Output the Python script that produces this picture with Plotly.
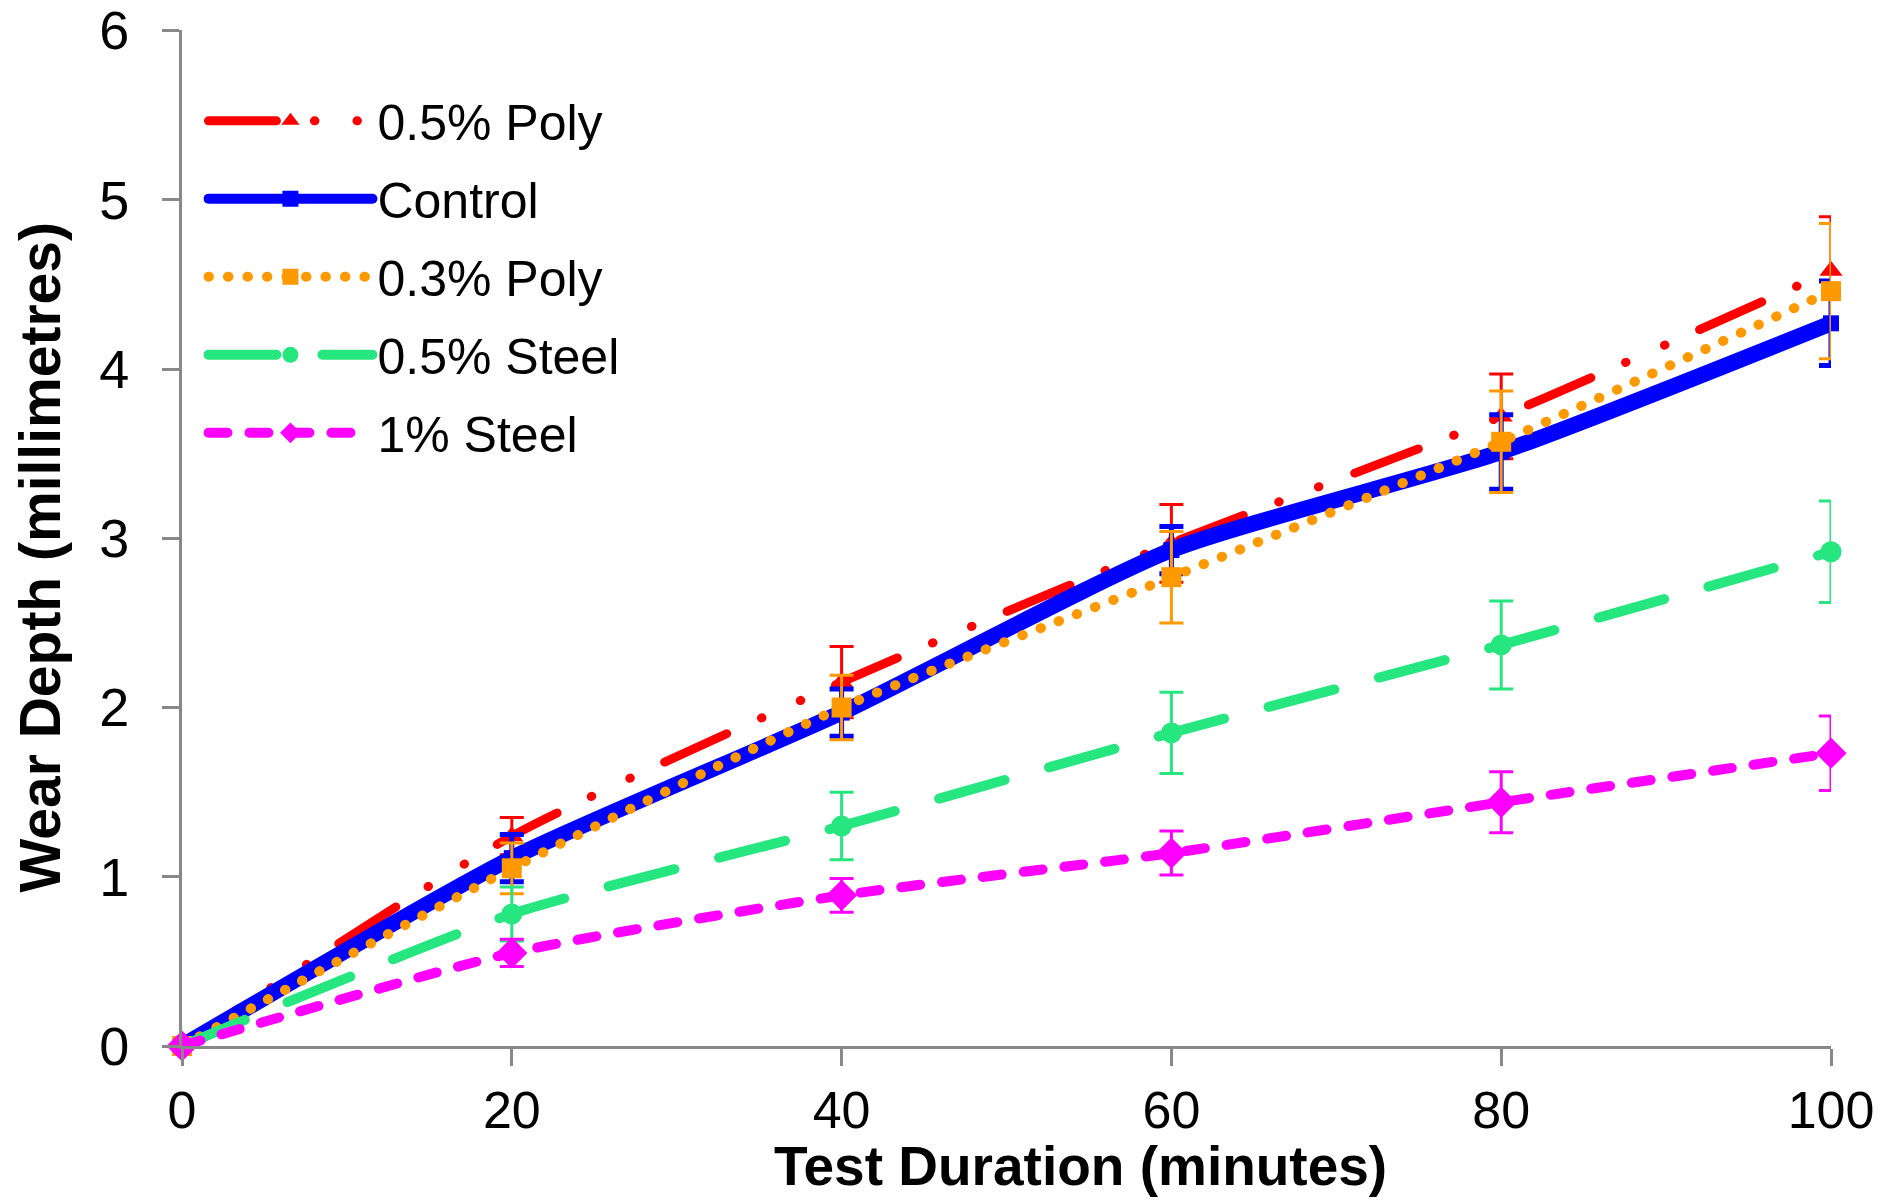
import plotly.graph_objects as go

# ---- data ----
minutes = [0, 20, 40, 60, 80, 100]

poly05 = [0, 1.24, 2.15, 2.97, 3.72, 4.58]
poly05_err = [0, 0.11, 0.21, 0.23, 0.25, 0.32]

control = [0, 1.11, 1.97, 2.93, 3.51, 4.27]
control_err = [0, 0.14, 0.14, 0.14, 0.22, 0.25]

poly03 = [0, 1.05, 2.00, 2.77, 3.57, 4.46]
poly03_err = [0, 0.15, 0.19, 0.27, 0.30, 0.40]

steel05 = [0, 0.78, 1.30, 1.85, 2.37, 2.92]
steel05_err = [0, 0.16, 0.20, 0.24, 0.26, 0.30]

steel1 = [0, 0.55, 0.89, 1.14, 1.44, 1.73]
steel1_err = [0, 0.08, 0.10, 0.13, 0.18, 0.22]

x_ticks = [0, 20, 40, 60, 80, 100]
y_ticks = [0, 1, 2, 3, 4, 5, 6]

FONT = "Liberation Sans, Arial, sans-serif"

series = [
    dict(name="0.5% Poly", y=poly05, err=poly05_err, color="#FF0000", width=9,
         dash="68px,38px,0.5px,42px,0.5px,38px", symbol="triangle-up", msize=20, ew=3),
    dict(name="Control", y=control, err=control_err, color="#0000FF", width=16,
         dash="solid", symbol="square", msize=16, ew=5),
    dict(name="0.3% Poly", y=poly03, err=poly03_err, color="#FF9900", width=10,
         dash="0.5px,19px", symbol="square", msize=20, ew=3),
    dict(name="0.5% Steel", y=steel05, err=steel05_err, color="#26E680", width=10,
         dash="68px,46px", symbol="circle", msize=21, ew=3),
    dict(name="1% Steel", y=steel1, err=steel1_err, color="#FF00FF", width=10,
         dash="19px,22px", symbol="diamond", msize=24, ew=3),
]

fig = go.Figure()
for i, s in enumerate(series):
    fig.add_trace(go.Scatter(
        x=minutes, y=s["y"], name=s["name"], mode="lines+markers",
        legendgroup=f"g{i}",
        line=dict(color=s["color"], width=s["width"], dash=s["dash"],
                  shape="spline", smoothing=0.6),
        marker=dict(symbol=s["symbol"], size=s["msize"], color=s["color"]),
        error_y=dict(type="data", array=s["err"], visible=True,
                     color=s["color"], thickness=s["ew"], width=12),
        cliponaxis=False,
    ))

fig.update_layout(
    width=1891, height=1200,
    margin=dict(l=182, r=60, t=30, b=154),
    paper_bgcolor="white", plot_bgcolor="white",
    font=dict(family=FONT, size=54, color="black"),
    showlegend=True,
    legend=dict(x=0.013, y=0.949, xanchor="left", yanchor="top",
                font=dict(family=FONT, size=50, color="black"),
                bgcolor="rgba(0,0,0,0)", tracegroupgap=10, itemwidth=164),
    xaxis=dict(range=[0, 100], tickvals=x_ticks, showline=True, linecolor="#888888",
               linewidth=3, ticks="outside", ticklen=17, tickwidth=3, tickcolor="#888888",
               showgrid=False, zeroline=False, tickfont=dict(family=FONT, size=52),
               ticklabelstandoff=0, automargin=False),
    yaxis=dict(range=[0, 6.003], tickvals=y_ticks, showline=True, linecolor="#888888",
               linewidth=3, ticks="outside", ticklen=17, tickwidth=3, tickcolor="#888888",
               showgrid=False, zeroline=False, tickfont=dict(family=FONT, size=54),
               ticklabelstandoff=22, automargin=False),
    annotations=[
        dict(text="<b>Test Duration (minutes)</b>", xref="paper", yref="paper",
             x=0.545, y=-0.118, xanchor="center", yanchor="middle", showarrow=False,
             font=dict(family=FONT, size=55, color="black")),
        dict(text="<b>Wear Depth (millimetres)</b>", xref="paper", yref="paper",
             x=-0.086, y=0.481, xanchor="center", yanchor="middle", showarrow=False,
             textangle=-90, font=dict(family=FONT, size=57, color="black")),
    ],
)

post = ("var s=document.createElement('style');"
        "s.innerHTML='.scatterlayer .js-line{stroke-linecap:round;stroke-linejoin:round}"
        ".legend .js-line{stroke-linecap:round}';document.head.appendChild(s);")

fig.write_html("out.html", post_script=post)
